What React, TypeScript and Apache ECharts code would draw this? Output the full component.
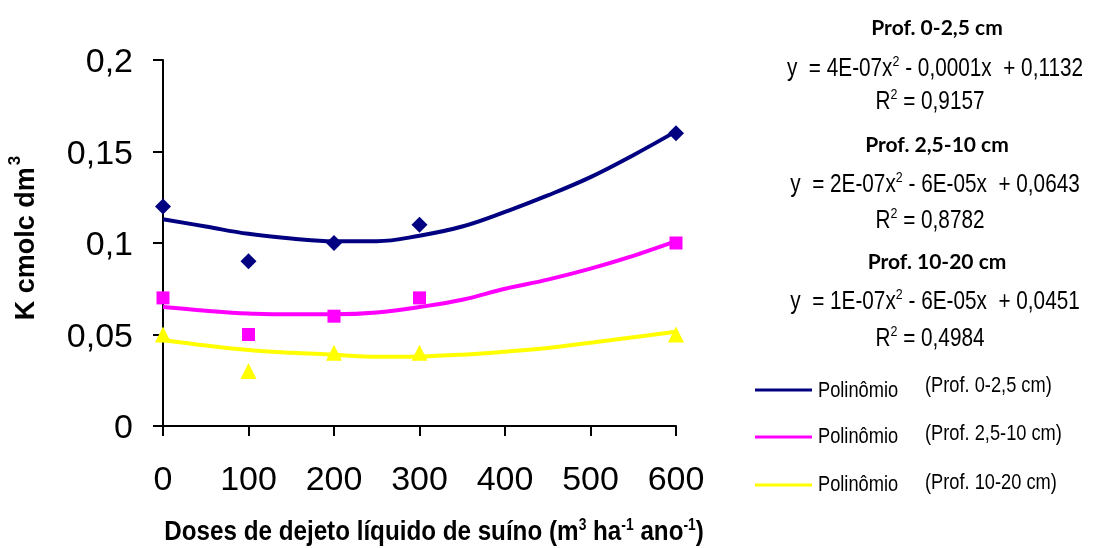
import React, { useEffect, useRef } from "react";
import * as echarts from "echarts";

const doses = [0, 100, 200, 300, 600];
const k0to25 = [0.12, 0.09, 0.1, 0.11, 0.16];
const k25to10 = [0.07, 0.05, 0.06, 0.07, 0.1];
const k10to20 = [0.05, 0.03, 0.04, 0.04, 0.05];

const trendX = [0, 50, 100, 150, 200, 250, 300, 350, 400, 450, 500, 550, 600];
const trend0to25 = [0.113, 0.109, 0.105, 0.1025, 0.101, 0.101, 0.104, 0.109, 0.117, 0.126, 0.136, 0.148, 0.161];
const trend25to10 = [0.065, 0.063, 0.0615, 0.061, 0.061, 0.062, 0.065, 0.069, 0.075, 0.08, 0.086, 0.093, 0.101];
const trend10to20 = [0.047, 0.044, 0.0415, 0.04, 0.039, 0.0378, 0.038, 0.039, 0.0406, 0.0426, 0.0455, 0.0485, 0.0515];

const seriesNames = ["Prof. 0-2,5 cm", "Prof. 2,5-10 cm", "Prof. 10-20 cm"];
const equations = [
  ["y  = 4E-07x", " - 0,0001x  + 0,1132", "0,9157"],
  ["y  = 2E-07x", " - 6E-05x  + 0,0643", "0,8782"],
  ["y  = 1E-07x", " - 6E-05x  + 0,0451", "0,4984"],
];
const legendLabel = "Polinômio";
const colors = ["#000080", "#FF00FF", "#FFFF00"];
const symbols = ["diamond", "rect", "triangle"];
const symbolSizes = [16, 13, 16];

const ARIAL = "'Liberation Sans', Arial, sans-serif";
const NARROW_SCALE = 0.83;

export default function App() {
  const ref = useRef<HTMLDivElement>(null);
  useEffect(() => {
    if (!ref.current) return;
    const chart = echarts.init(ref.current, undefined, { renderer: "svg" });
    const pts = [k0to25, k25to10, k10to20];
    const trends = [trend0to25, trend25to10, trend10to20];

    const series: any[] = [];
    trends.forEach((t, i) => {
      series.push({
        name: legendLabel + " (" + seriesNames[i] + ")",
        type: "line",
        smooth: 0.4,
        symbol: "none",
        data: trendX.map((x, j) => [x, t[j]]),
        lineStyle: { color: colors[i], width: 4 },
        itemStyle: { color: colors[i] },
        z: 2,
      });
    });
    pts.forEach((p, i) => {
      series.push({
        name: seriesNames[i],
        type: "scatter",
        symbol: symbols[i],
        symbolSize: symbolSizes[i],
        data: doses.map((x, j) => [x, p[j]]),
        itemStyle: { color: colors[i], opacity: 1 },
        z: 3,
      });
    });

    const profY = [26, 143, 260];
    const eqY = [67, 183, 300];
    const rY = [100, 219, 337];
    const richEq = {
      a: { fontFamily: ARIAL, fontSize: 25, fill: "#000", lineHeight: 28 },
      s: { fontFamily: ARIAL, fontSize: 15, fill: "#000", lineHeight: 28, padding: [0, 0, 12, 0] },
    };
    const graphics: any[] = [];
    seriesNames.forEach((name, i) => {
      graphics.push({
        type: "text",
        x: 937,
        y: profY[i],
        style: {
          text: name,
          font: "bold 21px Lato, 'Open Sans', sans-serif",
          fill: "#000",
          textAlign: "center",
          textVerticalAlign: "middle",
        },
      });
      graphics.push({
        type: "text",
        x: 935,
        y: eqY[i],
        scaleX: NARROW_SCALE,
        style: {
          text: "{a|" + equations[i][0] + "}{s|2}{a|" + equations[i][1] + "}",
          rich: richEq,
          textAlign: "center",
          textVerticalAlign: "middle",
        },
      });
      graphics.push({
        type: "text",
        x: 930,
        y: rY[i],
        scaleX: NARROW_SCALE,
        style: {
          text: "{a|R}{s|2}{a| = " + equations[i][2] + "}",
          rich: richEq,
          textAlign: "center",
          textVerticalAlign: "middle",
        },
      });
    });

    // legend (drawn as graphic to allow narrow text)
    const legLineY = [390, 437, 485];
    const legTextY = [389, 435, 483];
    const legProfY = [384, 432, 481];
    seriesNames.forEach((name, i) => {
      graphics.push({
        type: "line",
        shape: { x1: 755, y1: legLineY[i], x2: 812, y2: legLineY[i] },
        style: { stroke: colors[i], lineWidth: 3 },
      });
      graphics.push({
        type: "text",
        x: 818,
        y: legTextY[i],
        scaleX: NARROW_SCALE,
        style: {
          text: legendLabel,
          font: "22px " + ARIAL,
          fill: "#000",
          textAlign: "left",
          textVerticalAlign: "middle",
        },
      });
      graphics.push({
        type: "text",
        x: 925,
        y: legProfY[i],
        scaleX: NARROW_SCALE,
        style: {
          text: "(" + name + ")",
          font: "22px " + ARIAL,
          fill: "#000",
          textAlign: "left",
          textVerticalAlign: "middle",
        },
      });
    });

    // x axis title
    graphics.push({
      type: "text",
      x: 434,
      y: 530,
      scaleX: 0.865,
      style: {
        text: "{a|Doses de dejeto líquido de suíno (m}{s|3}{a| ha}{s|-1}{a| ano}{s|-1}{a|)}",
        rich: {
          a: { fontFamily: ARIAL, fontSize: 28, fontWeight: "bold", fill: "#000", lineHeight: 30 },
          s: { fontFamily: ARIAL, fontSize: 16, fontWeight: "bold", fill: "#000", lineHeight: 30, padding: [0, 0, 12, 0] },
        },
        textAlign: "center",
        textVerticalAlign: "middle",
      },
    });

    chart.setOption({
      animation: false,
      grid: { left: 163, right: 418, top: 60, bottom: 122, containLabel: false },
      xAxis: {
        type: "value",
        min: 0,
        max: 600,
        interval: 100,
        axisLine: { show: true, lineStyle: { color: "#000", width: 2 } },
        axisTick: { show: true, length: 10, lineStyle: { color: "#000", width: 2 } },
        axisLabel: { fontFamily: ARIAL, fontSize: 34, color: "#000", margin: 35 },
        splitLine: { show: false },
      },
      yAxis: {
        type: "value",
        min: 0,
        max: 0.2,
        interval: 0.05,
        name: "{a|K cmolc dm}{s|3}",
        nameLocation: "middle",
        nameRotate: 90,
        nameGap: 123,
        nameTextStyle: {
          padding: [0, 0, 0, 10],
          rich: {
            a: { fontFamily: ARIAL, fontSize: 27, fontWeight: "bold", color: "#000", lineHeight: 30 },
            s: { fontFamily: ARIAL, fontSize: 17, fontWeight: "bold", color: "#000", lineHeight: 30, padding: [0, 0, 22, 2] },
          },
        },
        axisLine: { show: true, lineStyle: { color: "#000", width: 2 } },
        axisTick: { show: true, length: 10, lineStyle: { color: "#000", width: 2 } },
        axisLabel: {
          fontFamily: ARIAL,
          fontSize: 34,
          color: "#000",
          margin: 30,
          formatter: (v: number) => String(Math.round(v * 100) / 100).replace(".", ","),
        },
        splitLine: { show: false },
      },
      graphic: graphics,
      series,
    });
    return () => chart.dispose();
  }, []);
  return <div ref={ref} style={{ position: "fixed", left: 0, top: 0, width: 1094, height: 548 }} />;
}
